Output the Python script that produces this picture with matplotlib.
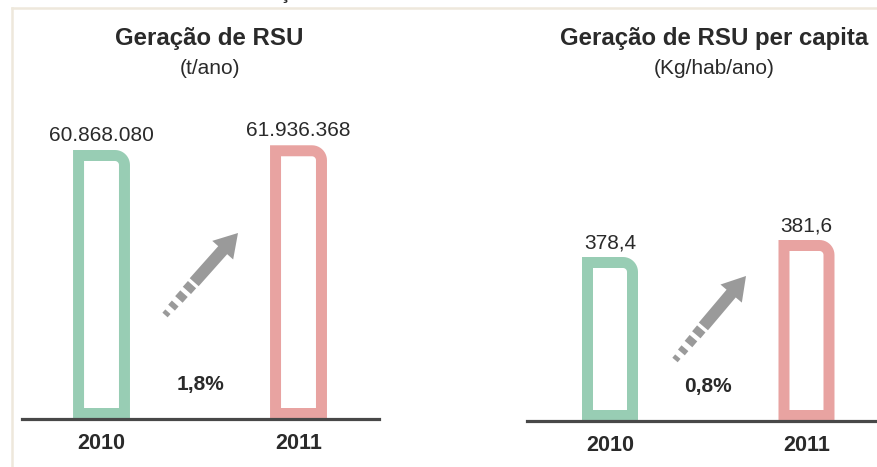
# Geração de RSU 2010-2011 - dois painéis com barras vazadas
import numpy as np
import matplotlib
matplotlib.use("Agg")
import matplotlib.pyplot as plt
import matplotlib.transforms as mtransforms
from matplotlib.patches import Polygon, FancyArrow

plt.rcParams['font.family'] = ['Liberation Sans', 'DejaVu Sans']

# dados
anos = ["2010", "2011"]
rsu_total = [60868080, 61936368]          # t/ano
rsu_total_lab = ["60.868.080", "61.936.368"]
rsu_capita = [378.4, 381.6]               # Kg/hab/ano
rsu_capita_lab = ["378,4", "381,6"]
cresc_total = "1,8%"
cresc_capita = "0,8%"

titulos = ["Geração de RSU", "Geração de RSU per capita"]
unidades = ["(t/ano)", "(Kg/hab/ano)"]

# cores
c_verde = "#98cdb4"
c_vermelho = "#e8a3a1"
c_base = "#484848"
c_texto = "#2a2a2a"
c_seta = "#9a9a9a"
c_moldura = "#eee8dc"

W, H = 877, 467
fig = plt.figure(figsize=(W / 100, H / 100), dpi=100)
fig.patch.set_facecolor("white")

# transform em pixels (origem no canto superior esquerdo)
px = mtransforms.Affine2D().scale(1 / W, -1 / H).translate(0, 1) + fig.transFigure


def ax_px(x0, x1, y_top, y_base):
    return fig.add_axes([x0 / W, (H - y_base) / H, (x1 - x0) / W, (y_base - y_top) / H])


def barra(ax, x, base, topo, larg, cor, esp=11, raio=15):
    # barra vazada com canto superior direito arredondado
    p0 = ax.transData.transform((0, 0))
    ux = (ax.transData.transform((1, 0)) - p0)[0]
    uy = (ax.transData.transform((0, 1)) - p0)[1]

    def forma(x0, x1, y0, y1, r):
        rx, ry = r / ux, r / uy
        t = np.linspace(np.pi / 2, 0, 12)
        arco = np.column_stack([x1 - rx + rx * np.cos(t), y1 - ry + ry * np.sin(t)])
        return np.vstack([[x0, y0], [x0, y1], arco, [x1, y0]])

    x0, x1 = x - larg / 2, x + larg / 2
    ax.add_patch(Polygon(forma(x0, x1, base, topo, raio), closed=True,
                         facecolor=cor, edgecolor="none", zorder=2))
    sx, sy = esp / ux, esp / uy
    ax.add_patch(Polygon(forma(x0 + sx, x1 - sx, base + sy, topo - sy, max(raio - esp, 3)),
                         closed=True, facecolor="white", edgecolor="none", zorder=3))


def seta(tail, tip):
    # seta cinza com cauda tracejada (coordenadas em pixels)
    tail = np.array(tail, float)
    tip = np.array(tip, float)
    d = tip - tail
    L = np.hypot(*d)
    u = d / L
    ini = tail + u * 0.40 * L
    fig.patches.append(FancyArrow(ini[0], ini[1], *(tip - ini), width=12, head_width=28,
                                  head_length=23, length_includes_head=True,
                                  color=c_seta, transform=px, linewidth=0))
    # pedaços da cauda
    pecas = [(0.30, 0.37, 11), (0.19, 0.26, 10), (0.09, 0.14, 9), (0.0, 0.04, 7)]
    for a, b, w in pecas:
        p, q = tail + u * a * L, tail + u * b * L
        fig.lines.append(plt.Line2D([p[0], q[0]], [p[1], q[1]], lw=w * 0.72,
                                    color=c_seta, solid_capstyle="butt", transform=px))


def painel(ax, valores, rotulos, base, y_max, cx, cresc, largura):
    ax.set_xlim(*cx)
    ax.set_ylim(base, y_max)
    ax.axis("off")
    for i, (v, lab) in enumerate(zip(valores, rotulos)):
        barra(ax, i, base, v, largura, [c_verde, c_vermelho][i])
        ax.annotate(lab, (i, v), xytext=(0, 3.5), textcoords="offset points",
                    ha="center", va="bottom", fontsize=15, color=c_texto)
        ax.annotate(anos[i], (i, base), xytext=(0, -10), textcoords="offset points",
                    ha="center", va="top", fontsize=15.5, fontweight="bold", color=c_texto)
    ax.axhline(base, color=c_base, lw=2.3, zorder=5, clip_on=False)
    ax.annotate(cresc, (0.5, base), xytext=(0, 24.5), textcoords="offset points",
                ha="center", va="center", fontsize=15, fontweight="bold", color=c_texto)


# moldura clara
fig.lines.append(plt.Line2D([12, W], [7.5, 7.5], color=c_moldura, lw=1.8, transform=px))
fig.lines.append(plt.Line2D([12, 12], [7.5, H], color=c_moldura, lw=1.8, transform=px))
fig.text(285 / W, 1 + 1 / H, "ç", ha="center", va="baseline", fontsize=14,
         fontweight="bold", color=c_texto)

# painel esquerdo
ax1 = ax_px(22, 379, 100, 419)
esc1 = 269 / rsu_total[0]
painel(ax1, rsu_total, rsu_total_lab, 0, 319 / esc1, (-0.4036, 1.4086), cresc_total, 0.289)

# painel direito (eixo truncado)
ax2 = ax_px(527, 877, 100, 421)
esc2 = 17 / (rsu_capita[1] - rsu_capita[0])
base2 = rsu_capita[0] - 164 / esc2
painel(ax2, rsu_capita, rsu_capita_lab, base2, base2 + 321 / esc2, (-0.4224, 1.3588),
       cresc_capita, 0.285)

# títulos
fig.text(209 / W, 1 - 38 / H, titulos[0], ha="center", va="center", fontsize=17.3,
         fontweight="bold", color=c_texto)
fig.text(210 / W, 1 - 68 / H, unidades[0], ha="center", va="center", fontsize=15, color=c_texto)
fig.text(714 / W, 1 - 38 / H, titulos[1], ha="center", va="center", fontsize=17.3,
         fontweight="bold", color=c_texto)
fig.text(714 / W, 1 - 68 / H, unidades[1], ha="center", va="center", fontsize=15, color=c_texto)

# setas
seta((165, 315), (238, 233))
seta((675, 360), (746, 276))

fig.savefig("out.png", dpi=100)
